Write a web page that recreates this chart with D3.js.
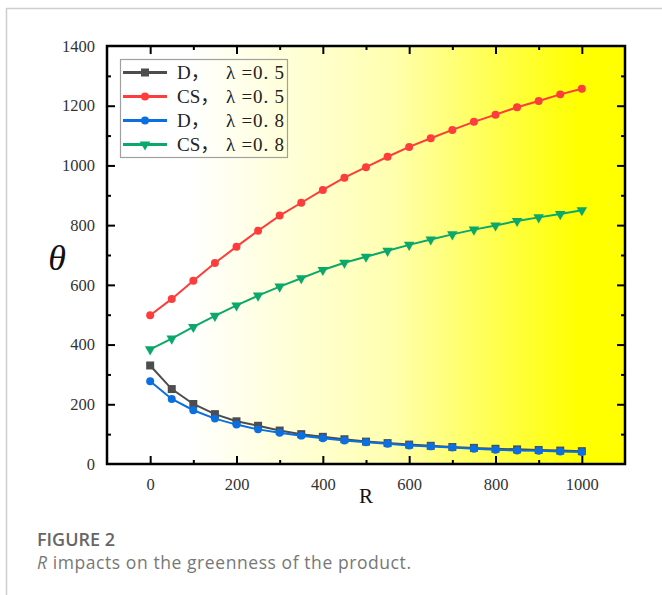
<!DOCTYPE html>
<html><head><meta charset="utf-8">
<script src="https://cdn.jsdelivr.net/npm/d3@7"></script>
<style>body{margin:0;background:#fff;} svg{display:block;}</style>
</head><body>
<svg id="chart" width="662" height="595"></svg>
<script>
const R = [0,50,100,150,200,250,300,350,400,450,500,550,600,650,700,750,800,850,900,950,1000];
const D05  = [330,251,201,167,143,128,112,100,91,83,75,70,65,61,57,54,51,49,47,45,43];
const CS05 = [498,553,614,673,728,781,832,875,918,959,994,1029,1062,1091,1119,1146,1170,1195,1216,1238,1257];
const D08  = [277,218,180,152,132,116,105,95,86,79,73,68,62,59,55,51,48,45,44,42,40];
const CS08 = [384,420,459,496,531,564,594,622,650,674,694,714,734,752,769,785,799,814,826,837,850];
const seriesNames = ["D，", "CS，", "D，", "CS，"];
const lambdaLabels = ["λ =0. 5", "λ =0. 5", "λ =0. 8", "λ =0. 8"];
const xTicks = [0,200,400,600,800,1000];
const yTicks = [0,200,400,600,800,1000,1200,1400];
const captionTitle = "FIGURE 2";
const captionText = " impacts on the greenness of the product.";

const series = [
  {name: seriesNames[0], lam: lambdaLabels[0], values: D05, color: "#4d4d4d", marker: "square"},
  {name: seriesNames[1], lam: lambdaLabels[1], values: CS05, color: "#ff3c3c", marker: "circle"},
  {name: seriesNames[2], lam: lambdaLabels[2], values: D08, color: "#0a6fe0", marker: "circle"},
  {name: seriesNames[3], lam: lambdaLabels[3], values: CS08, color: "#0aa86a", marker: "tri"}
];

const svg = d3.select("#chart");
svg.append("line").attr("x1",6).attr("x2",662).attr("y1",8.5).attr("y2",8.5).attr("stroke","#cfcfcf").attr("stroke-width",1.5);
svg.append("line").attr("x1",6.5).attr("x2",6.5).attr("y1",8).attr("y2",595).attr("stroke","#cfcfcf").attr("stroke-width",1.5);

const L = 107, Rr = 625, T = 46, B = 464;
const x = d3.scaleLinear().domain([-100,1100]).range([L,Rr]);
const y = d3.scaleLinear().domain([0,1400]).range([B,T]);

const defs = svg.append("defs");
const grad = defs.append("linearGradient").attr("id","bg").attr("x1","0").attr("x2","1").attr("y1","0").attr("y2","0");
grad.append("stop").attr("offset","0").attr("stop-color","#ffffff");
grad.append("stop").attr("offset","0.16").attr("stop-color","#ffffff");
grad.append("stop").attr("offset","0.55").attr("stop-color","#ffffb0");
grad.append("stop").attr("offset","0.91").attr("stop-color","#ffff00");
grad.append("stop").attr("offset","1").attr("stop-color","#ffff00");
svg.append("rect").attr("x",L).attr("y",T).attr("width",Rr-L).attr("height",B-T).attr("fill","url(#bg)");

const axisFont = "'Liberation Serif','DejaVu Serif',serif";
const minorX = d3.range(-100,1101,100).filter(v=>v%200!==0 && v>-100 && v<1100);
const minorY = d3.range(100,1400,200);
function tickStyle(g){
  g.selectAll("line").attr("stroke","#000").attr("stroke-width",2);
  g.select(".domain").remove();
  g.selectAll("text").style("font-family",axisFont).style("font-size","16.5px").attr("fill","#333");
}
const fmt = d3.format("d");
svg.append("g").attr("transform",`translate(0,${B})`).call(d3.axisBottom(x).tickValues(xTicks).tickFormat(fmt).tickSizeInner(-8).tickSizeOuter(0).tickPadding(14)).call(tickStyle);
svg.append("g").attr("transform",`translate(0,${B})`).call(d3.axisBottom(x).tickValues(minorX).tickSizeInner(-4).tickSizeOuter(0).tickFormat("")).call(tickStyle);
svg.append("g").attr("transform",`translate(0,${T})`).call(d3.axisTop(x).tickValues(xTicks).tickSizeInner(-8).tickSizeOuter(0).tickFormat("")).call(tickStyle);
svg.append("g").attr("transform",`translate(0,${T})`).call(d3.axisTop(x).tickValues(minorX).tickSizeInner(-4).tickSizeOuter(0).tickFormat("")).call(tickStyle);
const gyL = svg.append("g").attr("transform",`translate(${L},0)`).call(d3.axisLeft(y).tickValues(yTicks).tickFormat(fmt).tickSizeInner(-8).tickSizeOuter(0).tickPadding(12)).call(tickStyle);
gyL.selectAll(".tick line").filter(d=>d===0||d===1400).remove();
svg.append("g").attr("transform",`translate(${L},0)`).call(d3.axisLeft(y).tickValues(minorY).tickSizeInner(-4).tickSizeOuter(0).tickFormat("")).call(tickStyle);
svg.append("g").attr("transform",`translate(${Rr},0)`).call(d3.axisRight(y).tickValues(yTicks.filter(v=>v>0&&v<1400)).tickSizeInner(-8).tickSizeOuter(0).tickFormat("")).call(tickStyle);
svg.append("g").attr("transform",`translate(${Rr},0)`).call(d3.axisRight(y).tickValues(minorY).tickSizeInner(-4).tickSizeOuter(0).tickFormat("")).call(tickStyle);
svg.append("rect").attr("x",L).attr("y",T).attr("width",Rr-L).attr("height",B-T).attr("fill","none").attr("stroke","#000").attr("stroke-width",2.5);

svg.append("text").attr("x",366).attr("y",503).attr("text-anchor","middle").attr("font-family",axisFont).attr("font-size",21).attr("fill","#111").text("R");
svg.append("text").attr("x",57).attr("y",270).attr("text-anchor","middle").attr("font-family",axisFont).attr("font-style","italic").attr("font-size",36).attr("fill","#111").text("θ");

const line = d3.line().x((d,i)=>x(R[i])).y(d=>y(d));
const symSq = d3.symbol().type(d3.symbolSquare).size(64);
const symCi = d3.symbol().type(d3.symbolCircle).size(50);
const symTri = d3.symbol().type(d3.symbolTriangle).size(48);
function drawMarker(g, s, cx, cy){
  const p = g.append("path").attr("fill",s.color);
  if(s.marker==="square") p.attr("d",symSq()).attr("transform",`translate(${cx},${cy})`);
  else if(s.marker==="circle") p.attr("d",symCi()).attr("transform",`translate(${cx},${cy})`);
  else p.attr("d",symTri()).attr("transform",`translate(${cx},${cy}) rotate(180)`);
}
const plot = svg.append("g");
series.forEach(s=>{
  const g = plot.append("g");
  g.append("path").datum(s.values).attr("d",line).attr("fill","none").attr("stroke",s.color).attr("stroke-width",2);
  s.values.forEach((v,i)=>drawMarker(g,s,x(R[i]),y(v)));
});

const lg = svg.append("g");
lg.append("rect").attr("x",120.5).attr("y",59.5).attr("width",167).attr("height",98).attr("fill","none").attr("stroke","#a0a0a0").attr("stroke-width",1.2);
const legFont = "'Liberation Serif','Noto Sans CJK SC',serif";
series.forEach((s,i)=>{
  const yy = 72.5 + i*24;
  lg.append("line").attr("x1",123).attr("x2",167).attr("y1",yy).attr("y2",yy).attr("stroke",s.color).attr("stroke-width",3);
  drawMarker(lg,s,145,yy);
  lg.append("text").attr("x",177).attr("y",yy+6).attr("font-family",legFont).attr("font-size",19).attr("fill","#222").text(s.name);
  lg.append("text").attr("x",226).attr("y",yy+6).attr("font-family",legFont).attr("font-size",19).attr("fill","#222").attr("textLength",58).attr("lengthAdjust","spacing").text(s.lam);
});

const capFont = "'Open Sans','Noto Sans',sans-serif";
svg.append("text").attr("x",37).attr("y",546).attr("font-family",capFont).attr("font-size",18).attr("font-weight",600).attr("fill","#666").text(captionTitle);
const cap = svg.append("text").attr("x",37).attr("y",569).attr("font-family",capFont).attr("font-size",17.5).attr("fill","#777").attr("textLength",374).attr("lengthAdjust","spacing");
cap.append("tspan").attr("font-style","italic").text("R");
cap.append("tspan").text(captionText);
</script>
</body></html>
